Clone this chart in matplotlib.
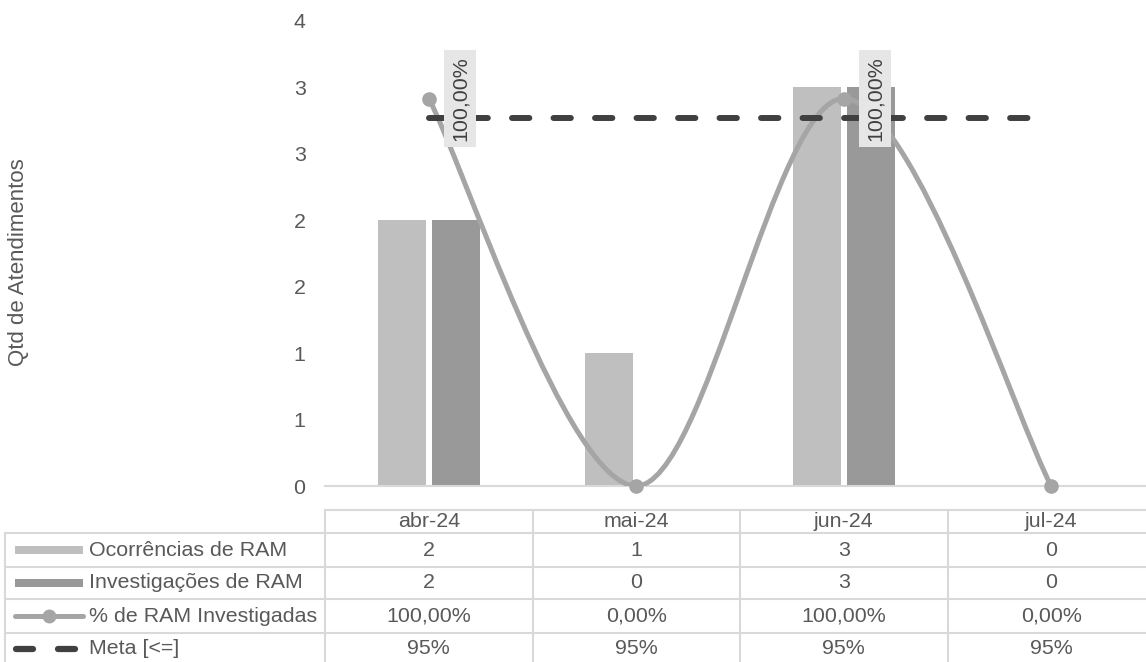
import matplotlib
matplotlib.use('Agg')
import matplotlib.pyplot as plt
import numpy as np
from matplotlib.path import Path
from matplotlib.patches import PathPatch, Rectangle
from matplotlib.lines import Line2D
import matplotlib.transforms as mtransforms

plt.rcParams['font.family'] = ['Liberation Sans', 'DejaVu Sans']

# ---- data ----
categories = ['abr-24', 'mai-24', 'jun-24', 'jul-24']
ocorrencias = [2, 1, 3, 0]
investigacoes = [2, 0, 3, 0]
pct_investigadas = [1.0, 0.0, 1.0, 0.0]
meta = [0.95, 0.95, 0.95, 0.95]
ytick_values = [0, 0.5, 1.0, 1.5, 2.0, 2.5, 3.0, 3.5]
ytick_labels = ['0', '1', '1', '2', '2', '3', '3', '4']
series_names = ['Ocorrências de RAM', 'Investigações de RAM',
                '% de RAM Investigadas', 'Meta [<=]']

# ---- style ----
C_OC = '#BFBFBF'
C_INV = '#999999'
C_PCT = '#A5A5A5'
C_META = '#404040'
C_TXT = '#595959'
C_GRID = '#D9D9D9'
FS = 15.4

W, H = 1146, 662
fig = plt.figure(figsize=(W / 100, H / 100), dpi=100)


def px(x0, y0, x1, y1):
    return [x0 / W, 1 - y1 / H, (x1 - x0) / W, (y1 - y0) / H]


# table / legend axes in pixel coordinates
ax_t = fig.add_axes([0, 0, 1, 1])
ax_t.set_xlim(0, W)
ax_t.set_ylim(H, 0)
ax_t.axis('off')

ax = fig.add_axes(px(325, 21, 1155, 486))
ax.set_facecolor('none')
x = np.arange(len(categories))
bw = 0.233
ax.bar(x - 0.13, ocorrencias, bw, color=C_OC, zorder=2)
ax.bar(x + 0.13, investigacoes, bw, color=C_INV, zorder=2)
ax.set_xlim(-0.5, len(categories) - 0.5)
ax.set_ylim(0, 3.5)
ax.set_yticks(ytick_values)
ax.set_yticklabels(ytick_labels)
ax.set_xticks([])
ax.tick_params(axis='y', length=0, pad=14, labelsize=FS, labelcolor=C_TXT)
for s in ['top', 'left', 'right']:
    ax.spines[s].set_visible(False)
ax.spines['bottom'].set_color(C_GRID)
ax.spines['bottom'].set_linewidth(1.5)

# secondary axis for percentages
ax2 = ax.twinx()
ax2.set_ylim(0, 1.2)
ax2.axis('off')

# smoothed line (Bezier through the data points)
pts = np.column_stack([x, pct_investigadas]).astype(float)
n = len(pts)
verts = [tuple(pts[0])]
codes = [Path.MOVETO]
for i in range(n - 1):
    p0 = pts[i - 1] if i > 0 else pts[i]
    p1 = pts[i]
    p2 = pts[i + 1]
    p3 = pts[i + 2] if i + 2 < n else pts[i + 1]
    c1 = p1 + (p2 - p0) / 6.0
    c2 = p2 - (p3 - p1) / 6.0
    verts += [tuple(c1), tuple(c2), tuple(p2)]
    codes += [Path.CURVE4] * 3
patch = PathPatch(Path(verts, codes), fill=False, ec=C_PCT, lw=3.6,
                  capstyle='round', joinstyle='round', zorder=3)
ax2.add_patch(patch)
ax2.plot(x, pct_investigadas, 'o', ms=9.5, color=C_PCT, clip_on=False, zorder=4)

ax2.plot(x, meta, color=C_META, lw=4.3, dashes=(2.9, 4.05),
         dash_capstyle='round', solid_capstyle='round', zorder=5)


def fmt_pct(v):
    return f"{v * 100:.2f}%".replace('.', ',')


for i, v in enumerate(pct_investigadas):
    if v > 0:
        ax2.annotate(fmt_pct(v), (x[i], v), xytext=(22.5, 0), textcoords='offset points',
                     rotation=90, ha='center', va='center', fontsize=FS, color=C_META,
                     bbox=dict(boxstyle='square,pad=0.3', fc='#E6E6E6', ec='none'),
                     zorder=6)

fig.text(19 / W, 1 - 262 / H, 'Qtd de Atendimentos', rotation=90, ha='center',
         va='center', fontsize=16, color=C_TXT)

# ---- data table ----
blend = mtransforms.blended_transform_factory(ax.transData, ax_t.transData)
header_top = 509.5
row_edges = [533.3, 566.7, 599.3, 632.7]
row_centers = [550, 583, 616, 649]
header_center = 521.5
lw_grid = 1.5

ax_t.add_line(Line2D([325, W], [header_top, header_top], color=C_GRID, lw=lw_grid))
for y in row_edges:
    ax_t.add_line(Line2D([5, W], [y, y], color=C_GRID, lw=lw_grid))
ax_t.add_line(Line2D([5, 5], [row_edges[0], H], color=C_GRID, lw=lw_grid))
for i in range(len(categories) + 1):
    ax_t.add_line(Line2D([i - 0.5, i - 0.5], [header_top, H], color=C_GRID,
                         lw=lw_grid, transform=blend, clip_on=False))

for i, c in enumerate(categories):
    ax_t.text(i, header_center, c, transform=blend, ha='center', va='center',
              fontsize=FS, color=C_TXT)

rows = [
    [str(v) for v in ocorrencias],
    [str(v) for v in investigacoes],
    [fmt_pct(v) for v in pct_investigadas],
    [f"{v * 100:.0f}%" for v in meta],
]
for r, vals in enumerate(rows):
    for i, t in enumerate(vals):
        ax_t.text(i, row_centers[r], t, transform=blend, ha='center', va='center',
                  fontsize=FS, color=C_TXT)
    ax_t.text(89, row_centers[r], series_names[r], ha='left', va='center',
              fontsize=FS, color=C_TXT)

# legend keys
yc = row_centers[0]
ax_t.add_patch(Rectangle((15, yc - 4), 68, 8, color=C_OC, lw=0))
yc = row_centers[1]
ax_t.add_patch(Rectangle((15, yc - 4), 68, 8, color=C_INV, lw=0))
yc = row_centers[2]
ax_t.add_line(Line2D([15, 83], [yc, yc], color=C_PCT, lw=3.6, solid_capstyle='round'))
ax_t.add_line(Line2D([49], [yc], marker='o', ms=9, color=C_PCT, lw=0))
yc = row_centers[3]
ax_t.add_line(Line2D([16, 33], [yc, yc], color=C_META, lw=4.5, solid_capstyle='round'))
ax_t.add_line(Line2D([58, 75], [yc, yc], color=C_META, lw=4.5, solid_capstyle='round'))

fig.savefig('out.png', dpi=100)
